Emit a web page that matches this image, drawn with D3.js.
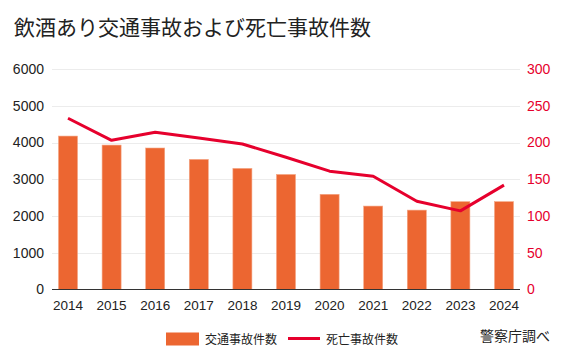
<!DOCTYPE html>
<html><head><meta charset="utf-8">
<script src="https://cdn.jsdelivr.net/npm/d3@7"></script>
<style>
body{margin:0;background:#fff;}
svg{display:block;font-family:"Liberation Sans",Arial,sans-serif;}
</style></head>
<body>
<svg id="c" width="565" height="360"></svg>
<script>
const title = "飲酒あり交通事故および死亡事故件数";
const years = ["2014","2015","2016","2017","2018","2019","2020","2021","2022","2023","2024"];
const accidents = [4175, 3930, 3850, 3540, 3295, 3130, 2590, 2270, 2160, 2390, 2390];
const deaths = [233, 203, 214, 206, 198, 180, 161, 154, 120, 107, 142];
const leftTicks = [0,1000,2000,3000,4000,5000,6000];
const rightTicks = [0,50,100,150,200,250,300];
const barLabel = "交通事故件数";
const lineLabel = "死亡事故件数";
const source = "警察庁調べ";

const svg = d3.select("#c");
const L = 52, R = 520, T = 69, B = 289.5;
const barColor = "#ec6631", lineColor = "#e6002d";

const x = d3.scaleBand().domain(years).range([L, R]).paddingInner(0.564).paddingOuter(0.149);
const yL = d3.scaleLinear().domain([0, 6000]).range([B, T]);
const yR = d3.scaleLinear().domain([0, 300]).range([B, T]);

svg.append("text").attr("x", 14).attr("y", 35).attr("font-size", 21)
  .attr("font-family", "'Noto Sans CJK JP',sans-serif").attr("fill", "#222").text(title);

// grid
svg.append("g").selectAll("line").data(leftTicks.filter(d => d > 0)).join("line")
  .attr("x1", L).attr("x2", R).attr("y1", d => Math.round(yL(d)) + 0.5).attr("y2", d => Math.round(yL(d)) + 0.5)
  .attr("stroke", "#ececec").attr("stroke-width", 1);

// left axis
const gl = svg.append("g").attr("transform", `translate(${L - 8},0)`)
  .call(d3.axisLeft(yL).tickValues(leftTicks).tickSize(0).tickPadding(0).tickFormat(d3.format("d")));
gl.select(".domain").remove();
gl.selectAll("text").attr("font-size", 14).attr("fill", "#222").attr("font-family", "'Liberation Sans',Arial,sans-serif");

// right axis
const gr = svg.append("g").attr("transform", `translate(${R + 7},0)`)
  .call(d3.axisRight(yR).tickValues(rightTicks).tickSize(0).tickPadding(0));
gr.select(".domain").remove();
gr.selectAll("text").attr("font-size", 14).attr("fill", lineColor).attr("font-family", "'Liberation Sans',Arial,sans-serif");

// bars
svg.append("g").selectAll("rect").data(accidents).join("rect")
  .attr("x", (d, i) => x(years[i])).attr("width", x.bandwidth())
  .attr("y", d => yL(d)).attr("height", d => B - yL(d))
  .attr("fill", barColor).attr("stroke", "#f4a583").attr("stroke-width", 0.6);

// baseline
svg.append("line").attr("x1", L).attr("x2", R).attr("y1", B).attr("y2", B)
  .attr("stroke", "#333").attr("stroke-width", 1.2);

// bottom axis
const gb = svg.append("g").attr("transform", `translate(0,${B + 11})`)
  .call(d3.axisBottom(x).tickSize(0).tickPadding(0));
gb.select(".domain").remove();
gb.selectAll("text").attr("font-size", 13.5).attr("fill", "#222").attr("dy", "0.71em")
  .attr("font-family", "'Liberation Sans',Arial,sans-serif");

// line
const line = d3.line().x((d, i) => x(years[i]) + x.bandwidth() / 2).y(d => yR(d));
svg.append("path").datum(deaths).attr("d", line).attr("fill", "none")
  .attr("stroke", lineColor).attr("stroke-width", 3).attr("stroke-linejoin", "round");

// legend
const lg = svg.append("g").attr("font-family", "'Noto Sans CJK JP',sans-serif");
lg.append("rect").attr("x", 166).attr("y", 332.5).attr("width", 33).attr("height", 13).attr("fill", barColor);
lg.append("text").attr("x", 205).attr("y", 339.5).attr("dy", "0.35em").attr("font-size", 12).attr("fill", "#222").text(barLabel);
lg.append("line").attr("x1", 288).attr("x2", 320).attr("y1", 338.5).attr("y2", 338.5).attr("stroke", lineColor).attr("stroke-width", 3);
lg.append("text").attr("x", 326).attr("y", 339.5).attr("dy", "0.35em").attr("font-size", 12).attr("fill", "#222").text(lineLabel);
lg.append("text").attr("x", 480).attr("y", 336.5).attr("dy", "0.35em").attr("font-size", 14).attr("fill", "#222").text(source);
</script>
</body></html>
